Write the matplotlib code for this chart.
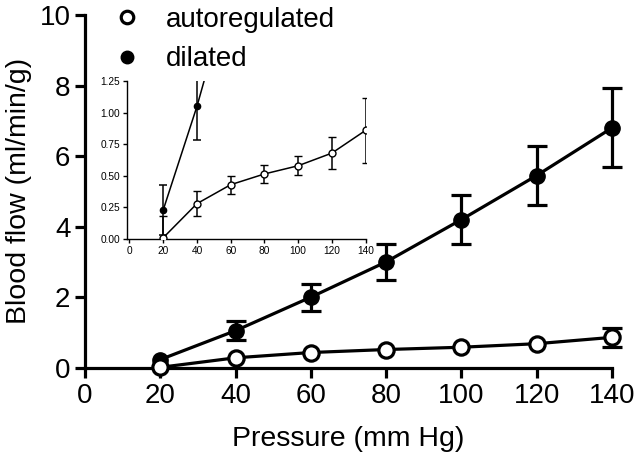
import matplotlib
matplotlib.use("Agg")
import matplotlib.pyplot as plt
from matplotlib.lines import Line2D
import numpy as np

plt.rcParams['font.family'] = ['Liberation Sans', 'DejaVu Sans']

# pressure steps (mm Hg)
pressure = [20, 40, 60, 80, 100, 120, 140]

# blood flow (ml/min/g), mean and error
dilated = [0.23, 1.05, 2.0, 3.0, 4.2, 5.45, 6.8]
dilated_err = [0.2, 0.27, 0.38, 0.52, 0.7, 0.85, 1.12]
autoreg = [0.01, 0.28, 0.43, 0.515, 0.58, 0.68, 0.86]
autoreg_err = [0.17, 0.1, 0.07, 0.07, 0.075, 0.125, 0.26]

main_yticks = [0, 2, 4, 6, 8, 10]
main_xticks = [0, 20, 40, 60, 80, 100, 120, 140]
inset_yticks = [0, 0.25, 0.5, 0.75, 1.0, 1.25]
inset_yticklabels = ['0.00', '0.25', '0.50', '0.75', '1.00', '1.25']

fig = plt.figure(figsize=(6.38, 4.55), dpi=100)
ax = fig.add_axes([0.1332, 0.1919, 0.826, 0.775])

# like Prism: error bars shorter than the symbol are hidden in the big plot
min_err = 0.21
lw = 2.3
ax.errorbar(pressure, dilated, yerr=dilated_err, color='black', lw=lw,
            marker='o', ms=11, mfc='black', mec='black', capsize=7,
            capthick=lw, elinewidth=lw, clip_on=False, zorder=3,
            errorevery=np.array(dilated_err) > min_err)
ax.errorbar(pressure, autoreg, yerr=autoreg_err, color='black', lw=lw,
            marker='o', ms=11, mfc='white', mec='black', mew=lw, capsize=7,
            capthick=lw, elinewidth=lw, clip_on=False, zorder=4,
            errorevery=np.array(autoreg_err) > min_err)

ax.set_xlim(0, 140)
ax.set_ylim(0, 10)
ax.set_xticks(main_xticks)
ax.set_yticks(main_yticks)
for s in ['top', 'right']:
    ax.spines[s].set_visible(False)
for s in ['left', 'bottom']:
    ax.spines[s].set_linewidth(2.3)
ax.tick_params(width=2.3, length=7, labelsize=20, direction='out')
ax.tick_params(axis='x', pad=4)
ax.set_xlabel('Pressure (mm Hg)', fontsize=20.5, labelpad=12)
ax.set_ylabel('Blood flow (ml/min/g)', fontsize=20.5, labelpad=5)

# legend
handles = [Line2D([], [], ls='none', marker='o', ms=9, mfc='white', mec='black', mew=2.3),
           Line2D([], [], ls='none', marker='o', ms=9, mfc='black', mec='black')]
leg = ax.legend(handles, ['autoregulated', 'dilated'], loc='upper left',
                bbox_to_anchor=(0.0, 1.095), frameon=False, fontsize=20,
                handlelength=1.2, handletextpad=0.8, labelspacing=0.5)

# inset
ins = fig.add_axes([0.199, 0.4747, 0.374, 0.347])
ins.errorbar(pressure, dilated, yerr=dilated_err, color='black', lw=1.1,
             marker='o', ms=4.5, mfc='black', mec='black', capsize=3,
             capthick=1.1, elinewidth=1.1, zorder=3)
ins.errorbar(pressure, autoreg, yerr=autoreg_err, color='black', lw=1.1,
             marker='o', ms=5, mfc='white', mec='black', mew=1.0, capsize=3,
             capthick=1.1, elinewidth=1.1, zorder=4)
ins.set_xlim(-1.5, 140)
ins.set_ylim(0, 1.25)
ins.set_xticks(main_xticks)
ins.set_yticks(inset_yticks)
ins.set_yticklabels(inset_yticklabels)
for s in ['top', 'right']:
    ins.spines[s].set_visible(False)
for s in ['left', 'bottom']:
    ins.spines[s].set_linewidth(1.0)
ins.tick_params(width=1.0, length=3, labelsize=7.3, pad=2)
ins.patch.set_alpha(0)

fig.savefig('out.png', dpi=100)
